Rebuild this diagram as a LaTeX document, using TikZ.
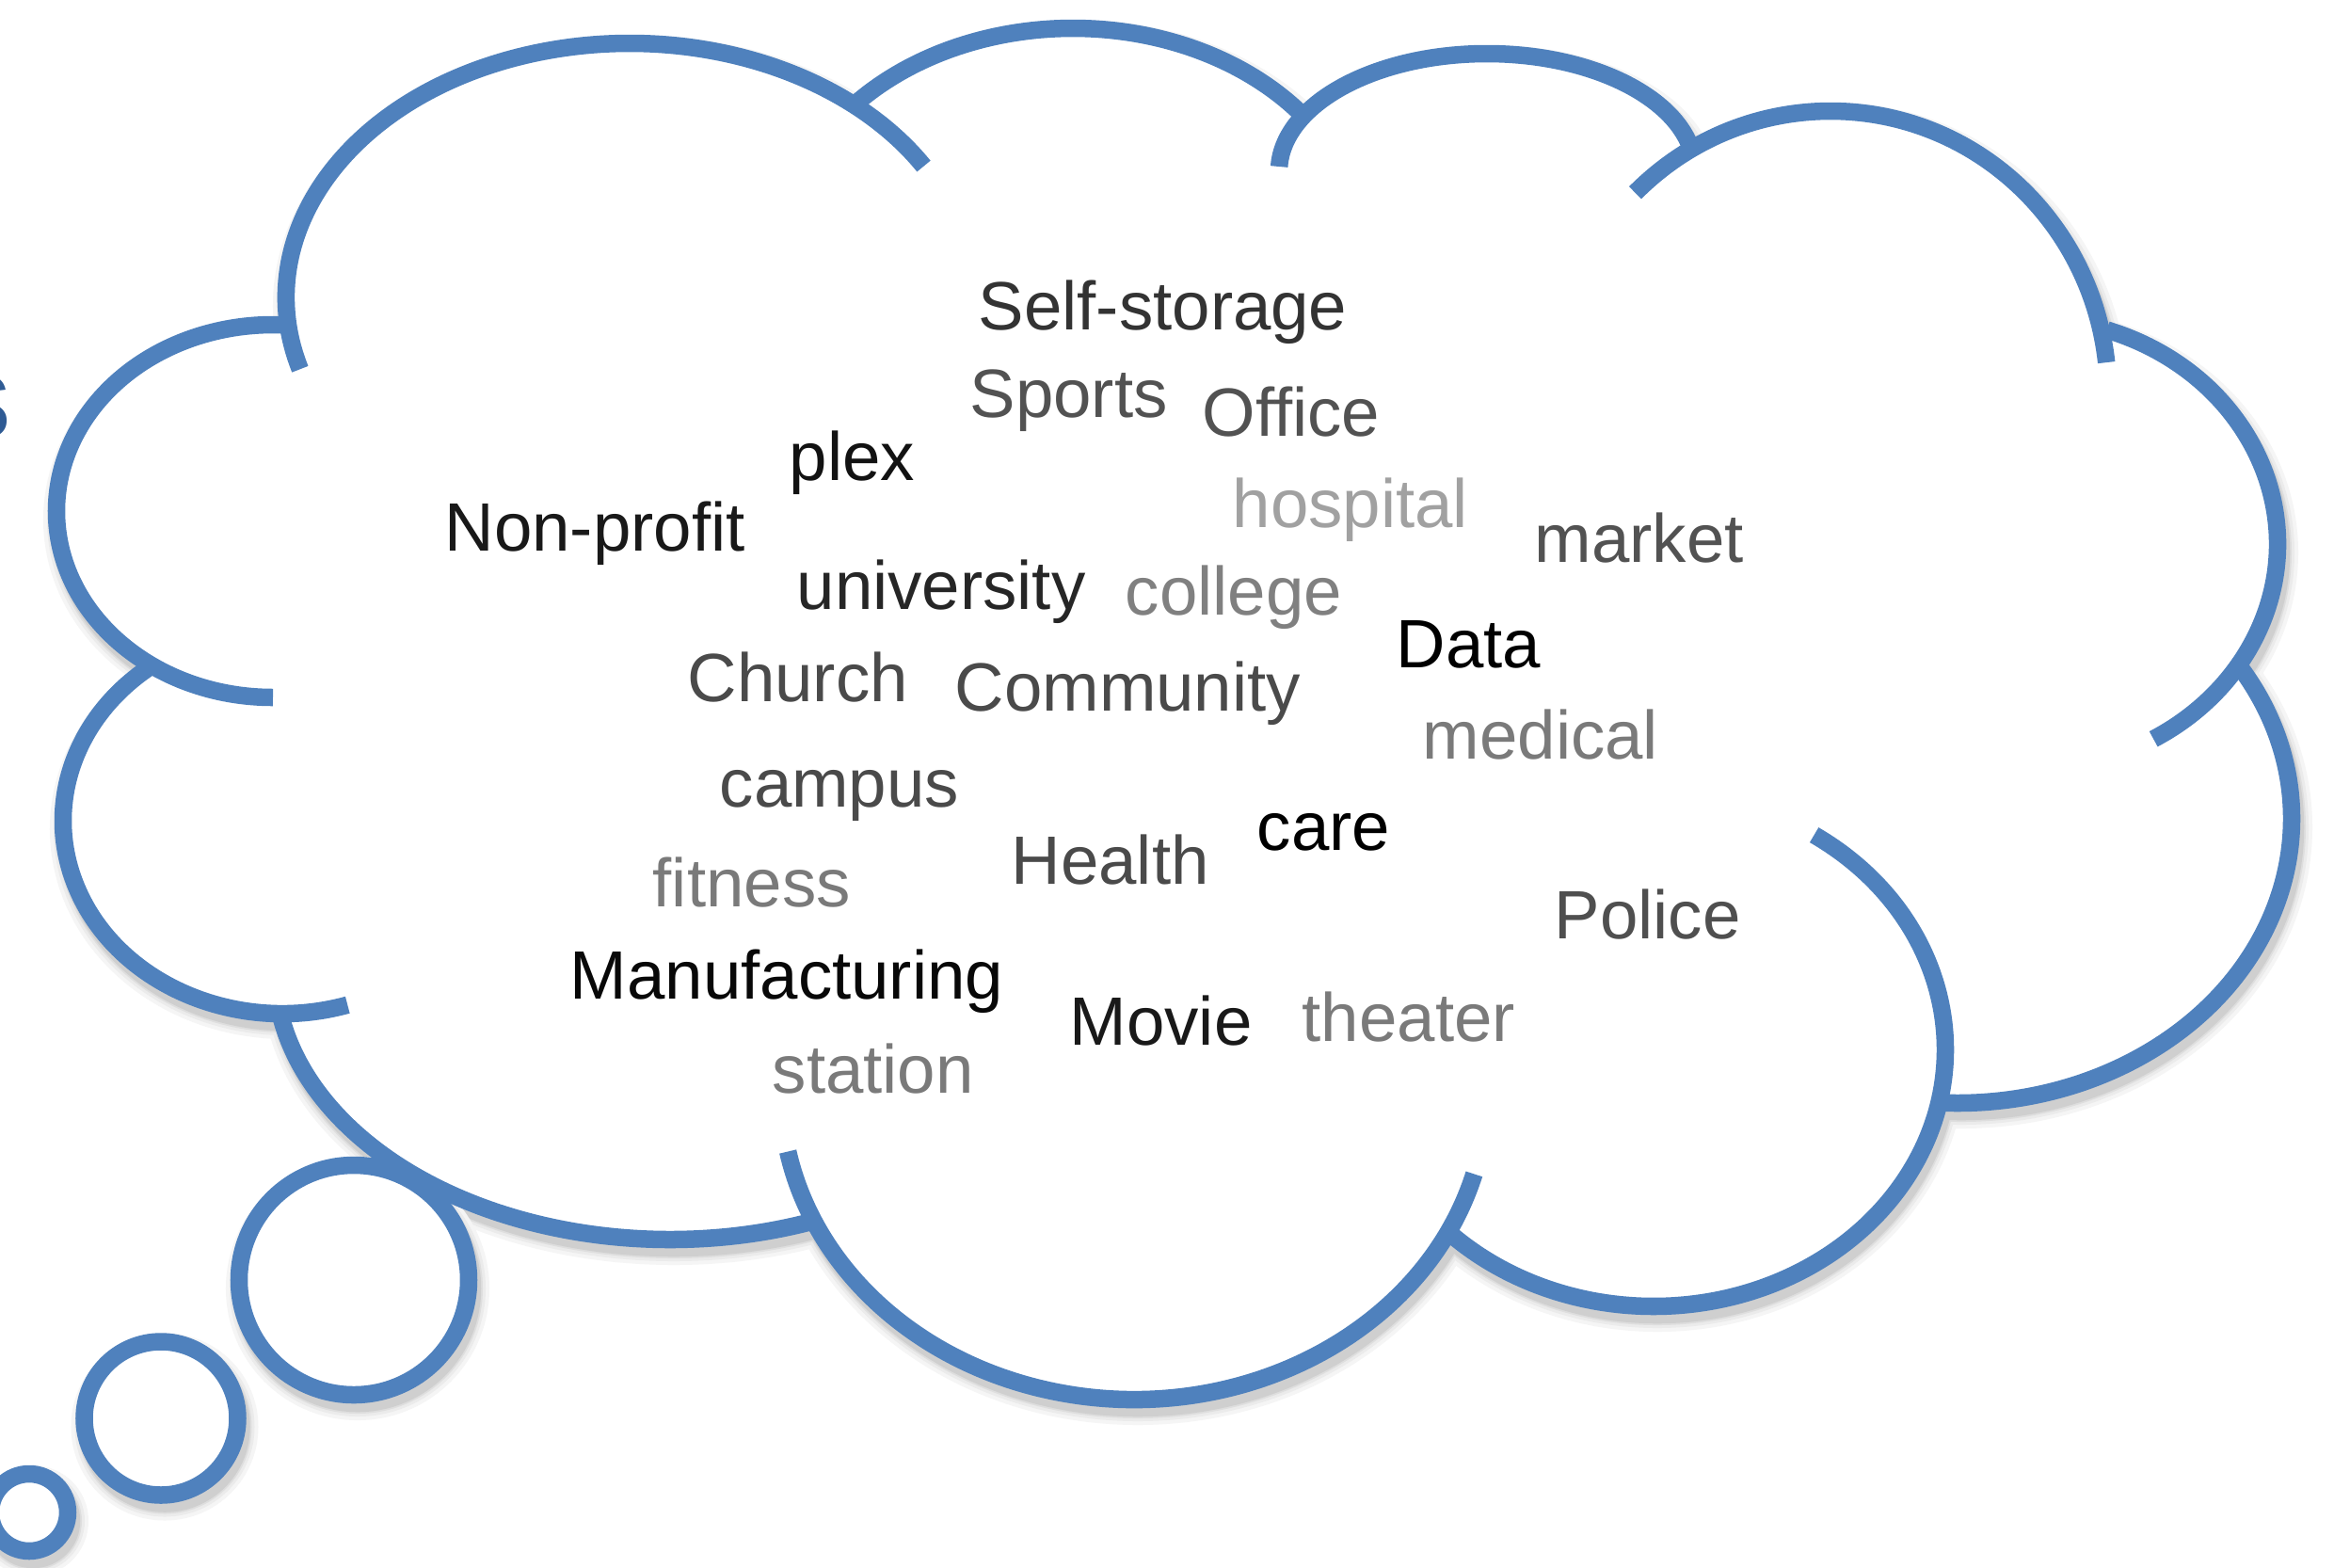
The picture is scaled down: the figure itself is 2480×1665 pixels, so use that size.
\documentclass[tikz,border=0pt]{standalone}
\usepackage{fontspec}
\setmainfont{Liberation Sans}
\definecolor{cloudblue}{HTML}{4F81BD}
\definecolor{sblue}{HTML}{2F5B94}
\newcommand\cloudarea[2]{%
  \foreach \cx/\cy/\rx/\ry in {669/316/365/270,1140/271/310/241,1580/182/221/125,1945/418/295/300,2154/578/266/240,2080/870/355/302,1757/1115/310/273,1205/1160/375/327,712/1030/420/287,300/872/233/205,290/543/230/198}
    {\path[#1] (\cx,\cy) ellipse[x radius=\rx, y radius=\ry];}
  \path[#2] (908,111) -- (1385,123) -- (1796,156) -- (2239,350) -- (2379,707) -- (2062,1172) -- (1538,1308) -- (856,1300) -- (298,1077) -- (160,708) -- (304,345) -- cycle;
}
\newcommand\tailarea[1]{%
  \foreach \cx/\cy/\r in {376/1360/122,171/1507/81.5,31/1607/41}
    {\path[#1] (\cx,\cy) circle[radius=\r];}
}
\newcommand\lobe[6]{\draw[cloudline] ([shift={(#5:#3 and #4)}]#1,#2) arc[start angle=#5, end angle=#6, x radius=#3, y radius=#4];}
\begin{document}
\begin{tikzpicture}[x=0.01cm,y=-0.01cm,
  cloudline/.style={draw=cloudblue, line width=0.185cm},
  word/.style={anchor=base west, inner sep=0pt, font=\fontsize{20.66pt}{24pt}\selectfont},
  shA/.style={fill=black!4, draw=black!4, line width=0.36cm, shift={(4,9)}},
  shB/.style={fill=black!8, draw=black!8, line width=0.28cm, shift={(4,9)}},
  shC/.style={fill=black!13, draw=black!13, line width=0.22cm, shift={(4,9)}},
  shD/.style={fill=black!19, draw=black!19, line width=0.185cm, shift={(4,9)}},
  shP/.style={fill=black!19, shift={(4,9)}}
]
\useasboundingbox (0,0) rectangle (2480,1665);
\fill[white] (0,0) rectangle (2480,1665);
% partial letter at the left edge
\node[anchor=base east, inner sep=0pt, text=sblue, font=\fontsize{35.6pt}{40pt}\selectfont] (sfrag) at (13,465) {s};
% shadows
\cloudarea{shA}{shP}
\cloudarea{shB}{shP}
\cloudarea{shC}{shP}
\cloudarea{shD}{shP}
\tailarea{shA}
\tailarea{shB}
\tailarea{shC}
\tailarea{shD}
% white interiors
\cloudarea{fill=white}{fill=white}
\tailarea{fill=white}
% tail bubbles
\tailarea{cloudline}
% cloud lobes
\lobe{669}{316}{365}{270}{163.6}{328.9}
\lobe{1140}{271}{310}{241}{221.5}{322.1}
\lobe{1580}{182}{221}{125}{182.3}{348}
\lobe{1945}{418}{295}{300}{225.3}{353.7}
\lobe{2154}{578}{266}{240}{288.6}{419.7}
\lobe{2080}{870}{355}{302}{-32.7}{92.9}
\lobe{1757}{1115}{310}{273}{-56.6}{134.5}
\lobe{1205}{1160}{375}{327}{15.5}{168.8}
\lobe{712}{1030}{420}{287}{69}{170.5}
\lobe{300}{872}{233}{205}{72.7}{232.9}
\lobe{290}{543}{230}{198}{90}{273.5}
% words
\node[word, text=black!80] (w1) at (1039,350) {Self-storage};
\node[word, text=black!68] (w2) at (1030,443) {Sports};
\node[word, text=black!68] (w3) at (1277,463) {Office};
\node[word, text=black!93] (w4) at (838,510) {plex};
\node[word, text=black!90] (w5) at (472,585) {Non-profit};
\node[word, text=black!37] (w6) at (1309,560) {hospital};
\node[word, text=black!68] (w7) at (1630,597) {market};
\node[word, text=black!85] (w8) at (846,647) {university};
\node[word, text=black!50] (w9) at (1195,653) {college};
\node[word, text=black] (w10) at (1483,709) {Data};
\node[word, text=black!71] (w11) at (730,745) {Church};
\node[word, text=black!71] (w12) at (1014,755) {Community};
\node[word, text=black!52] (w13) at (1511,806) {medical};
\node[word, text=black!71] (w14) at (764,857) {campus};
\node[word, text=black] (w15) at (1335,903) {care};
\node[word, text=black!71] (w16) at (1074,939) {Health};
\node[word, text=black!52] (w17) at (693,963) {fitness};
\node[word, text=black!69] (w18) at (1651,997) {Police};
\node[word, text=black!97] (w19) at (605,1061) {Manufacturing};
\node[word, text=black!90] (w20) at (1136,1110) {Movie};
\node[word, text=black!52] (w21) at (1383,1106) {theater};
\node[word, text=black!52] (w22) at (820,1161) {station};
\end{tikzpicture}
\end{document}
